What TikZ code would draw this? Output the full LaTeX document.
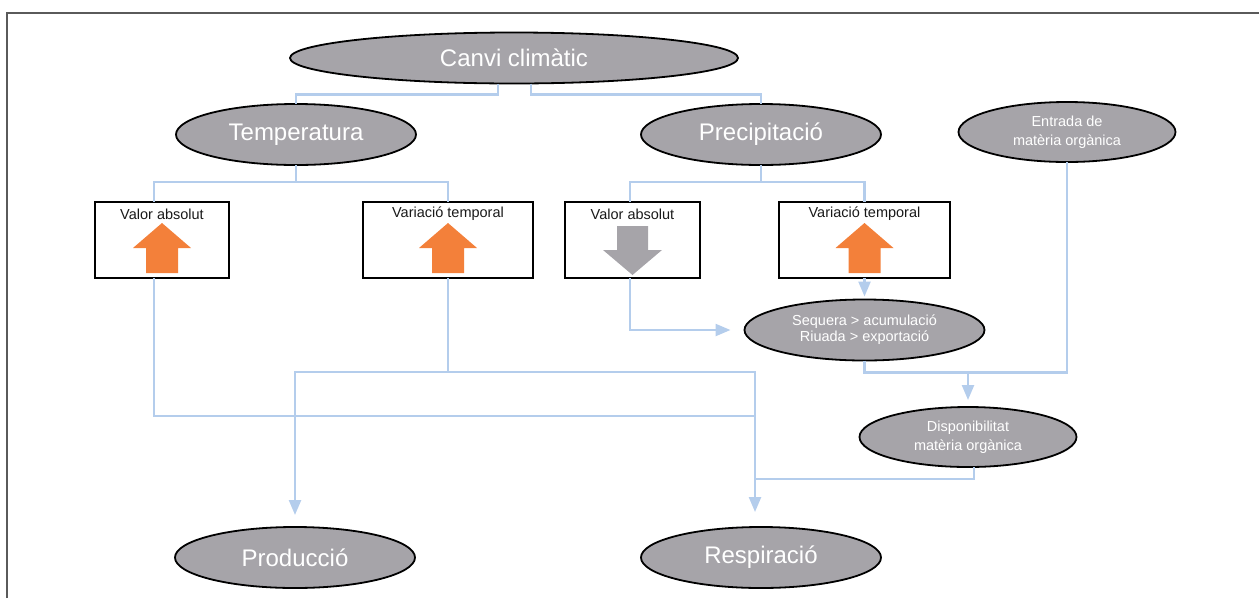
\documentclass[tikz,border=0pt]{standalone}
\usepackage{fontspec}
\setmainfont{Liberation Sans}
\usetikzlibrary{shapes.geometric,arrows.meta}
\definecolor{ellgrey}{RGB}{166,164,169}
\definecolor{linkblue}{RGB}{180,205,236}
\definecolor{uporange}{RGB}{243,128,58}
\definecolor{framegrey}{RGB}{90,90,90}
\tikzset{
  bigell/.style={ellipse,draw=black,line width=1.8pt,fill=ellgrey,text=white,inner sep=0pt,outer sep=0pt,
    minimum width=240pt,minimum height=61pt,font=\fontsize{24}{28}\selectfont},
  smallell/.style={bigell,minimum width=217pt,minimum height=60pt,align=center,font=\fontsize{14.5}{19}\selectfont},
  valbox/.style={draw=black,line width=1.8pt,inner sep=0pt,outer sep=0pt,minimum height=76pt},
  boxlbl/.style={font=\fontsize{14.5}{17}\selectfont,text=black!90},
  conn/.style={draw=linkblue,line width=2.4pt},
  arr/.style={-{Triangle[width=12pt,length=15pt]}}
}
\begin{document}
\begin{tikzpicture}[x=1pt,y=-1pt]
\useasboundingbox (0,0) rectangle (1259,598);
\draw[framegrey,line width=2.2pt] (7,598) -- (7,13) -- (1259,13);

\node[bigell,minimum width=448pt,minimum height=51pt] (canvi) at (514,58) {Canvi climàtic};
\node[bigell] (temp) at (296,134.5) {Temperatura};
\node[bigell] (prec) at (761,134.5) {Precipitació};
\node[smallell] (entr) at (1067,132) {Entrada de\\matèria orgànica};

\node[valbox,minimum width=134pt] (tva) at (162,240) {};
\node[valbox,minimum width=170pt] (tvt) at (448,240) {};
\node[valbox,minimum width=135pt] (pva) at (632.5,240) {};
\node[valbox,minimum width=171pt] (pvt) at (864.5,240) {};
\node[boxlbl] (tvalbl) at ([yshift=-12pt]tva.north) {Valor absolut};
\node[boxlbl] (tvtlbl) at ([yshift=-12pt]tvt.north) {Variació temporal};
\node[boxlbl] (pvalbl) at ([yshift=-12pt]pva.north) {Valor absolut};
\node[boxlbl] (pvtlbl) at ([yshift=-12pt]pvt.north) {Variació temporal};
\foreach \cx in {162,448,864.5}
  \fill[uporange] (\cx,223) -- ++(29,25) -- ++(-13,0) -- ++(0,25) -- ++(-32,0) -- ++(0,-25) -- ++(-13,0) -- cycle;
\fill[ellgrey] (632.5,275) -- ++(29.5,-25) -- ++(-14,0) -- ++(0,-24) -- ++(-31,0) -- ++(0,24) -- ++(-14,0) -- cycle;

\node[smallell,minimum width=240pt,minimum height=61pt,font=\fontsize{14.5}{16}\selectfont] (seq) at (864.5,330) {Sequera > acumulació\\Riuada > exportació};
\node[smallell] (disp) at (968,437) {Disponibilitat\\matèria orgànica};
\node[bigell] (prod) at (295,557.5) {Producció};
\node[bigell] (resp) at (761,557.5) {Respiració};
\coordinate (rx) at ([xshift=-6pt]resp.north);

\draw[conn] ([xshift=-16pt]canvi.south) -- ++(0,11) -| (temp.north);
\draw[conn] ([xshift=17pt]canvi.south) -- ++(0,11) -| (prec.north);
\draw[conn] (temp.south) -- ++(0,17);
\draw[conn] ([xshift=-8pt]tva.north) -- ++(0,-20) -| (tvt.north);
\draw[conn] (prec.south) -- ++(0,17);
\draw[conn] ([xshift=-2.5pt]pva.north) -- ++(0,-20) -| (pvt.north);
\draw[conn,arr,shorten >=3pt] (pvt.south) -- (seq.north);
\draw[conn,arr,shorten >=14pt] ([xshift=-2.5pt]pva.south) |- (seq.west);
\draw[conn] (seq.south) -- ++(0,12) coordinate (sj) -| (entr.south);
\draw[conn,arr,shorten >=7pt] (sj -| disp.north) -- (disp.north);
\draw[conn] (tvt.south) -- ++(0,94) coordinate (vj);
\draw[conn,arr,shorten >=12pt] (vj) -| (prod.north);
\draw[conn,arr,shorten >=15pt] (vj) -| (rx);
\draw[conn] ([xshift=-8pt]tva.south) -- ++(0,138) coordinate (ad) -- (ad -| rx);
\draw[conn] ([xshift=6pt]disp.south) -- ++(0,12) coordinate (dd) -- (dd -| rx);
\end{tikzpicture}
\end{document}
